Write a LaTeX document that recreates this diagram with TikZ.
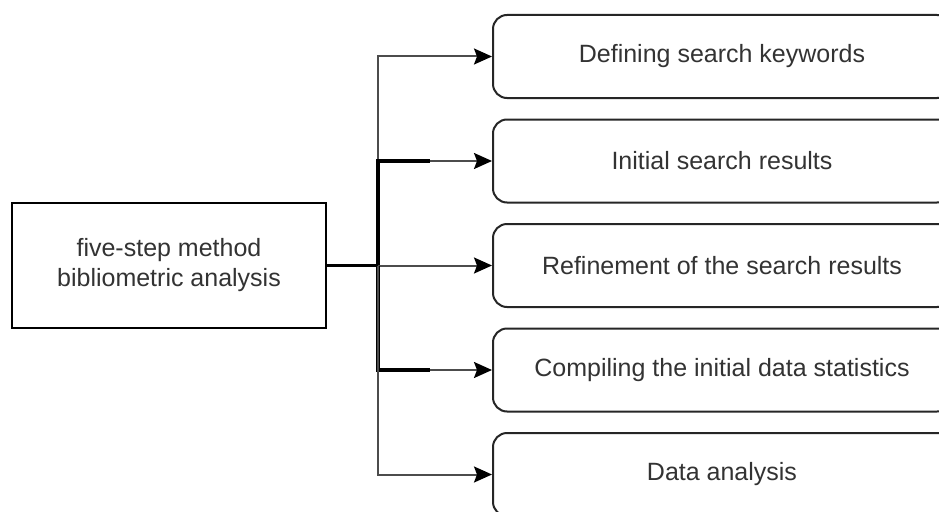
\documentclass[tikz,border=0pt]{standalone}
\usepackage{fontspec}
\setmainfont{Liberation Sans}
\usetikzlibrary{arrows.meta}
\begin{document}
\begin{tikzpicture}[x=1pt,y=-1pt,
  font=\fontsize{25}{30}\selectfont,
  stage/.style={draw=black!85, line width=2pt, rounded corners=14pt,
    minimum width=458pt, minimum height=83pt, inner sep=0pt,
    text=black!80, anchor=west},
  source/.style={draw=black, line width=2pt, minimum width=314pt,
    minimum height=125pt, inner sep=0pt, align=center, text=black!80},
  link/.style={draw=black!70, line width=2pt,
    -{Stealth[length=18pt,width=16pt,inset=3pt,color=black,fill=black]}},
  heavy/.style={draw=black, line width=3.2pt}]
\clip (0,0) rectangle (939,511);
\fill[white] (0,0) rectangle (939,511);

% method box
\node[source] (src) at (169,265.5) {five-step method\\bibliometric analysis};

% the five steps
\node[stage] (s1) at (492,56.5)  {Defining search keywords};
\node[stage] (s2) at (492,161)   {Initial search results};
\node[stage] (s3) at (492,265.5) {Refinement of the search results};
\node[stage] (s4) at (492,370)   {Compiling the initial data statistics};
\node[stage] (s5) at (492,474.5) {Data analysis};

% branching point and heavy elbows
\coordinate (jn) at (378,265.5);
\coordinate (k2) at (430,161);
\coordinate (k4) at (430,370);

\draw[link] (src.east) -- (jn) |- (s1.west);
\draw[heavy] (src.east) -- (jn) |- (k2);
\draw[link] (k2) -- (s2.west);
\draw[link] (jn) -- (s3.west);
\draw[heavy] (jn) |- (k4);
\draw[link] (k4) -- (s4.west);
\draw[link] (jn) |- (s5.west);
\end{tikzpicture}
\end{document}
